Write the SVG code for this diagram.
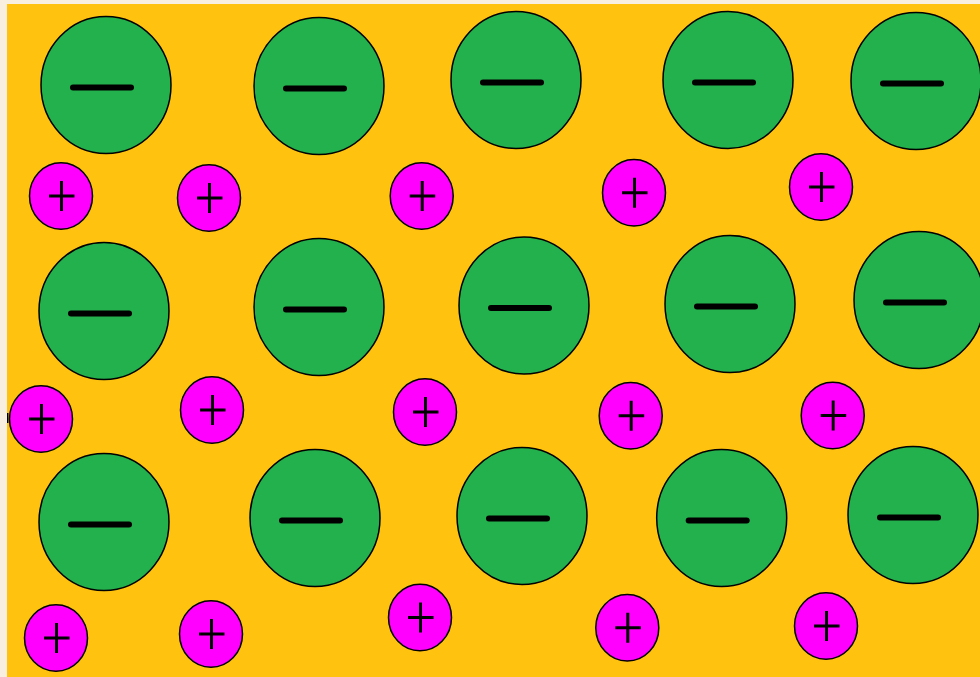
<svg xmlns="http://www.w3.org/2000/svg" width="980" height="677" viewBox="0 0 980 677">
<style>
.big{fill:#22b14c;stroke:#000;stroke-width:1.5}
.minus{stroke:#000;stroke-width:6;stroke-linecap:round}
.small{fill:#ff00ff;stroke:#000;stroke-width:1.5}
.plus{stroke:#000;stroke-width:3;fill:none}
</style>
<defs>
<g id="neg"><ellipse class="big" cx="0" cy="0" rx="65" ry="68.5"/><line class="minus" x1="-33" y1="2.5" x2="25" y2="2.5"/></g>
<g id="pos"><ellipse class="small" cx="0" cy="0" rx="31.5" ry="33.3"/><path class="plus" d="M-12 0H13.5M0.5 -15V15"/></g>
</defs>
<rect x="0" y="0" width="980" height="677" fill="#f8efe0"/>
<rect x="7" y="4" width="973" height="673" fill="#ffc20e"/>
<rect x="7" y="413" width="1.5" height="10" fill="#000"/>
<g id="anions">
<g id="n1"><use href="#neg" x="106" y="85"/></g>
<g id="n2"><use href="#neg" x="319" y="86"/></g>
<g id="n3"><use href="#neg" x="516" y="80"/></g>
<g id="n4"><use href="#neg" x="728" y="80"/></g>
<g id="n5"><use href="#neg" x="916" y="81"/></g>
<g id="n6"><use href="#neg" x="104" y="311"/></g>
<g id="n7"><use href="#neg" x="319" y="307"/></g>
<g id="n8"><use href="#neg" x="524" y="305.5"/></g>
<g id="n9"><use href="#neg" x="730" y="304"/></g>
<g id="n10"><use href="#neg" x="919" y="300"/></g>
<g id="n11"><use href="#neg" x="104" y="522"/></g>
<g id="n12"><use href="#neg" x="315" y="518"/></g>
<g id="n13"><use href="#neg" x="522" y="516"/></g>
<g id="n14"><use href="#neg" x="721.7" y="518"/></g>
<g id="n15"><use href="#neg" x="913" y="515"/></g>
</g>
<g id="cations">
<g id="p1"><use href="#pos" x="61" y="196"/></g>
<g id="p2"><use href="#pos" x="209" y="198"/></g>
<g id="p3"><use href="#pos" x="421.7" y="196"/></g>
<g id="p4"><use href="#pos" x="634" y="192.7"/></g>
<g id="p5"><use href="#pos" x="821" y="187"/></g>
<g id="p6"><use href="#pos" x="41" y="419"/></g>
<g id="p7"><use href="#pos" x="212" y="410"/></g>
<g id="p8"><use href="#pos" x="425" y="412"/></g>
<g id="p9"><use href="#pos" x="630.7" y="415.7"/></g>
<g id="p10"><use href="#pos" x="832.7" y="415.5"/></g>
<g id="p11"><use href="#pos" x="56" y="638"/></g>
<g id="p12"><use href="#pos" x="211" y="634"/></g>
<g id="p13"><use href="#pos" x="420" y="617.5"/></g>
<g id="p14"><use href="#pos" x="627.3" y="627.7"/></g>
<g id="p15"><use href="#pos" x="826" y="626"/></g>
</g>
</svg>
